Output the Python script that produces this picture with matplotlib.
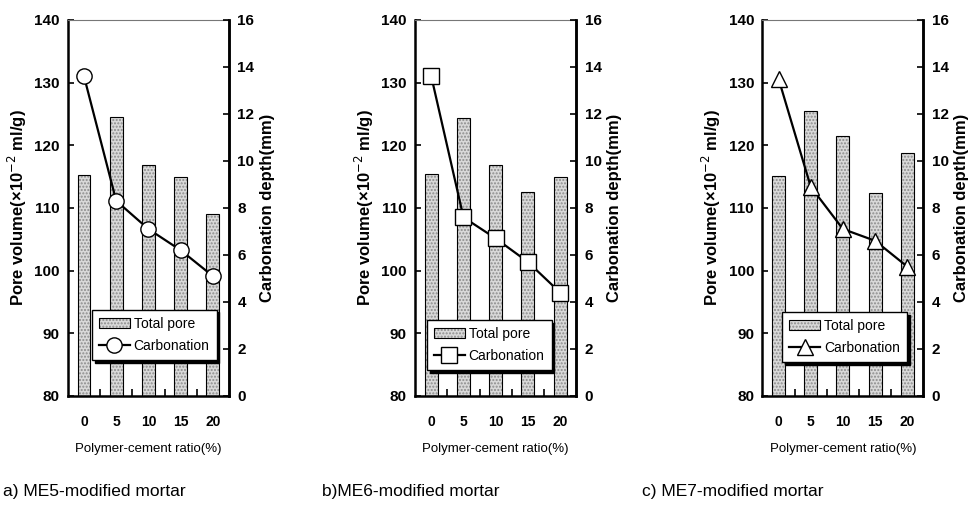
import matplotlib.pyplot as plt
import numpy as np

plt.rcParams['font.family'] = ['Liberation Sans', 'DejaVu Sans']

ratios = ['0', '5', '10', '15', '20']

pore_me5 = [115.3, 124.5, 116.8, 115.0, 109.0]
pore_me6 = [115.4, 124.3, 116.8, 112.5, 114.9]
pore_me7 = [115.1, 125.5, 121.4, 112.4, 118.7]

carb_me5 = [13.6, 8.3, 7.1, 6.2, 5.1]
carb_me6 = [13.6, 7.6, 6.7, 5.7, 4.4]
carb_me7 = [13.5, 8.9, 7.1, 6.6, 5.5]

captions = ['a) ME5-modified mortar', 'b)ME6-modified mortar', 'c) ME7-modified mortar']

panels = [
    (pore_me5, carb_me5, 'o', 0.070, (0.15, 0.096)),
    (pore_me6, carb_me6, 's', 0.428, (0.074, 0.069)),
    (pore_me7, carb_me7, '^', 0.786, (0.124, 0.09)),
]
caption_x = [0.003, 0.332, 0.662]

fig = plt.figure(figsize=(9.7, 5.23), dpi=100)
x = np.arange(len(ratios))

for i, (pore, carb, mk, left, leg_pos) in enumerate(panels):
    ax = fig.add_axes([left, 0.243, 0.166, 0.719])
    bars = ax.bar(x, pore, width=0.4, bottom=0, color='#d9d9d9', edgecolor='black',
                  linewidth=0.8, hatch='.....', label='Total pore')
    for b in bars:
        b._hatch_color = (0.55, 0.55, 0.55, 1)
    ax.set_ylim(80, 140)
    ax.set_xlim(-0.5, 4.5)
    ax.set_yticks(range(80, 141, 10))
    ax.set_xticks(x)
    ax.set_xticklabels(ratios)
    ax.set_xticks(np.arange(0.5, 4.0, 1.0), minor=True)
    ax.tick_params(axis='x', which='major', length=0, pad=14, labelsize=10)
    ax.tick_params(axis='x', which='minor', direction='in', length=5, width=1.2)
    ax.tick_params(axis='y', direction='in', length=4, width=1.2, labelsize=11, pad=6)
    for lab in ax.get_xticklabels() + ax.get_yticklabels():
        lab.set_fontweight('bold')
    ax.set_ylabel('Pore volume(×10$^{-2}$ ml/g)', fontsize=12, fontweight='bold', labelpad=4)
    ax.set_xlabel('Polymer-cement ratio(%)', fontsize=9.5, labelpad=10)
    for s in ['left', 'bottom', 'right']:
        ax.spines[s].set_linewidth(1.8)
    ax.spines['top'].set_linewidth(0.8)
    ax.spines['top'].set_color('#777777')

    ax2 = ax.twinx()
    line, = ax2.plot(x, carb, color='black', linewidth=1.6, marker=mk, markersize=11,
                     markerfacecolor='white', markeredgecolor='black', markeredgewidth=1.0,
                     label='Carbonation')
    ax2.set_ylim(0, 16)
    ax2.set_yticks(range(0, 17, 2))
    ax2.tick_params(axis='y', direction='in', length=4, width=1.2, labelsize=11, pad=6)
    for lab in ax2.get_yticklabels():
        lab.set_fontweight('bold')
    ax2.set_ylabel('Carbonation depth(mm)', fontsize=12, fontweight='bold', labelpad=4)
    ax2.spines['right'].set_linewidth(1.8)
    for s in ['left', 'bottom', 'top']:
        ax2.spines[s].set_visible(False)

    leg = ax2.legend([bars, line], ['Total pore', 'Carbonation'], loc='lower left',
                     bbox_to_anchor=leg_pos, frameon=True, fancybox=False,
                     shadow={'color': 'black', 'alpha': 1}, fontsize=10,
                     handlelength=2.2, borderpad=0.5, labelspacing=0.6, handletextpad=0.3,
                     borderaxespad=0)
    leg.get_frame().set_edgecolor('black')
    leg.get_frame().set_linewidth(1.0)

    fig.text(caption_x[i], 0.06, captions[i], fontsize=12.5, ha='left', va='center')

fig.savefig('out.png', dpi=100)
